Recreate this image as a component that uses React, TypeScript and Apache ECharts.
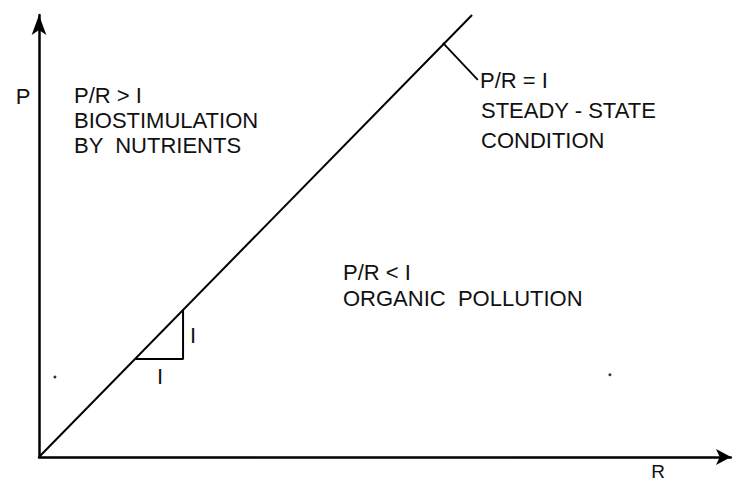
import React, { useEffect, useRef } from "react";
import * as echarts from "echarts";

// Diagonal P/R = 1 line (R, P) in plot units
const diagonalR = [0, 98];
const diagonalP = [0, 100];
// Unit-slope triangle (R, P)
const triangleR = [21.7, 32.6, 32.6];
const triangleP = [22.2, 22.2, 33.3];
// Pointer from diagonal to label
const pointerR = [91.4, 99.3];
const pointerP = [93.7, 85.3];
// Stray dots
const dotR = [3.6, 129.2];
const dotP = [18.1, 18.6];

const X_MAX = 156.6;
const Y_MAX = 100;

const zip = (a: number[], b: number[]) => a.map((v, i) => [v, b[i]]);

const FONT = "22px 'Liberation Sans', Arial, sans-serif";

export default function App() {
  const ref = useRef<HTMLDivElement>(null);
  useEffect(() => {
    if (!ref.current) return;
    const chart = echarts.init(ref.current, null, { renderer: "svg" });
    const txt = (text: string, x: number, y: number, align = "left", font = FONT) => ({
      type: "text",
      x,
      y,
      style: { text, fill: "#111", font, align, verticalAlign: "middle" },
    });
    chart.setOption({
      animation: false,
      backgroundColor: "#fff",
      grid: { left: 39, right: 1, top: 15, bottom: 26 },
      xAxis: {
        type: "value",
        min: 0,
        max: X_MAX,
        splitLine: { show: false },
        axisTick: { show: false },
        axisLabel: { show: false },
        axisLine: {
          show: true,
          symbol: ["none", "arrow"],
          symbolSize: [12, 15],
          lineStyle: { color: "#000", width: 2.5 },
        },
      },
      yAxis: {
        type: "value",
        min: 0,
        max: Y_MAX,
        splitLine: { show: false },
        axisTick: { show: false },
        axisLabel: { show: false },
        axisLine: {
          show: true,
          symbol: ["none", "arrow"],
          symbolSize: [11, 20],
          lineStyle: { color: "#000", width: 2.5 },
        },
      },
      series: [
        {
          type: "line",
          data: zip(diagonalR, diagonalP),
          symbol: "none",
          lineStyle: { color: "#000", width: 2 },
        },
        {
          type: "line",
          data: zip(triangleR, triangleP),
          symbol: "none",
          lineStyle: { color: "#000", width: 2 },
        },
        {
          type: "line",
          data: zip(pointerR, pointerP),
          symbol: "none",
          lineStyle: { color: "#000", width: 1.8 },
        },
        {
          type: "scatter",
          data: zip(dotR, dotP),
          symbolSize: 3,
          itemStyle: { color: "#000" },
        },
      ],
      graphic: [
        txt("P/R > I", 74, 95),
        txt("BIOSTIMULATION", 74, 120),
        txt("BY  NUTRIENTS", 74, 145),
        txt("P/R = I", 480, 80),
        txt("STEADY - STATE", 481, 110),
        txt("CONDITION", 481, 140),
        txt("P/R < I", 343, 272),
        txt("ORGANIC  POLLUTION", 343, 298),
        txt("I", 160, 376, "center"),
        txt("I", 193, 335, "center"),
        txt("R", 658, 471, "center", "19px 'Liberation Sans', Arial, sans-serif"),
        txt("P", 23, 96, "center"),
      ],
    });
    return () => chart.dispose();
  }, []);
  return (
    <div
      ref={ref}
      style={{ position: "fixed", left: 0, top: 0, width: 732, height: 483, background: "#fff" }}
    />
  );
}
